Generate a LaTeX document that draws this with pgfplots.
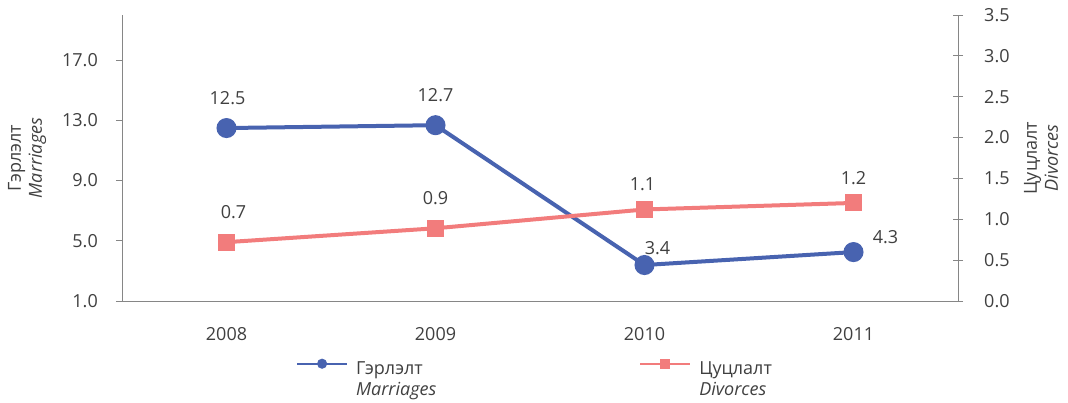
\documentclass[border=0pt]{standalone}
\usepackage{pgfplots}
\usepackage{pgfplotstable}
\pgfplotsset{compat=1.18}
\usepackage{fontspec}
\setmainfont{Open Sans}
\definecolor{bl}{RGB}{72,99,176}
\definecolor{rd}{RGB}{242,124,124}
\definecolor{axg}{RGB}{134,134,134}
\definecolor{txt}{RGB}{64,64,64}
\pgfplotstableread{
x y lab dx dy
0 12.49 12.5 1 30
1 12.68 12.7 0 30
2 3.39 3.4 13 17
3 4.25 4.3 32 15
}\marr
\pgfplotstableread{
x y lab dx dy
0 0.72 0.7 7 30
1 0.89 0.9 0 30
2 1.12 1.1 -2 25
3 1.20 1.2 0 25
}\divo
\pgfplotsset{
  base/.style={
    scale only axis, width=836pt, height=286pt,
    xmin=-0.5, xmax=3.5,
    axis line style={draw=axg, line width=0.9pt},
    tick style={draw=axg, line width=0.9pt},
    ticklabel style={text=txt},
    /pgf/number format/assume math mode=true,
    label style={text=txt},
  },
  lbl/.style={
    nodes near coords,
    point meta=explicit symbolic,
    visualization depends on={\thisrow{dx}\as\labdx},
    visualization depends on={\thisrow{dy}\as\labdy},
    every node near coord/.append style={anchor=center, xshift=\labdx pt, yshift=\labdy pt, text=txt},
  },
  mstyle/.style={color=bl, line width=4pt, mark=*, mark size=8pt, mark options={solid}},
  dstyle/.style={color=rd, line width=4pt, mark=square*, mark size=6.5pt, mark options={solid}},
}
\begin{document}
\fontsize{18}{21}\selectfont
\begin{tikzpicture}
\begin{axis}[base, name=ax, at={(0,0)}, anchor=south west,
  ymin=1, ymax=20, ytick={1,5,9,13,17},
  axis x line*=bottom, axis y line*=left,
  xtick={0,1,2,3}, xticklabels={2008,2009,2010,2011},
  x tick style={draw=none},
  xticklabel style={yshift=-14pt},
  y tick style={draw=axg}, tick align=outside, major tick length=6pt,
  yticklabel style={xshift=-12pt, /pgf/number format/.cd, fixed, fixed zerofill, precision=1},
  every axis y label/.style={at={(axis description cs:0,0.5)}, anchor=center, xshift=-95pt, rotate=90, align=center, text=txt},
  ylabel={Гэрлэлт\\\textit{Marriages}},
  legend columns=2,
  legend style={at={(axis description cs:0.5,0)}, anchor=north, xshift=-5pt, yshift=-55pt, draw=none, fill=none,
    /tikz/every odd column/.append style={column sep=6pt},
    /tikz/every even column/.append style={column sep=201pt}, text=txt},
  legend image code/.code={\draw[mark repeat=2, mark phase=2, #1, line width=2pt, mark size=4pt, yshift=10.5pt] plot coordinates {(0pt,0pt) (25pt,0pt) (50pt,0pt)};},
]
\addplot[mstyle, lbl] table[x=x, y=y, meta=lab] {\marr};
\addlegendimage{dstyle, mark size=3.5pt}
\legend{\begin{tabular}{@{}l@{}}Гэрлэлт\\\textit{Marriages}\end{tabular},\begin{tabular}{@{}l@{}}Цуцлалт\\\textit{Divorces}\end{tabular}}
\end{axis}
\begin{axis}[base, at={(0,0)}, anchor=south west,
  ymin=0, ymax=3.5, ytick={0,0.5,...,3.5},
  axis x line=none, axis y line*=right,
  tick align=center, major tick length=10pt,
  yticklabel style={xshift=15pt, /pgf/number format/.cd, fixed, fixed zerofill, precision=1},
  every axis y label/.style={at={(axis description cs:1,0.5)}, anchor=center, xshift=83pt, rotate=90, align=center, text=txt},
  ylabel={Цуцлалт\\\textit{Divorces}},
]
\addplot[dstyle, lbl] table[x=x, y=y, meta=lab] {\divo};
\end{axis}
\pgfresetboundingbox
\path (ax.south west) ++(-122pt,-101pt) rectangle ++(1068pt,402pt);
\end{tikzpicture}
\end{document}
